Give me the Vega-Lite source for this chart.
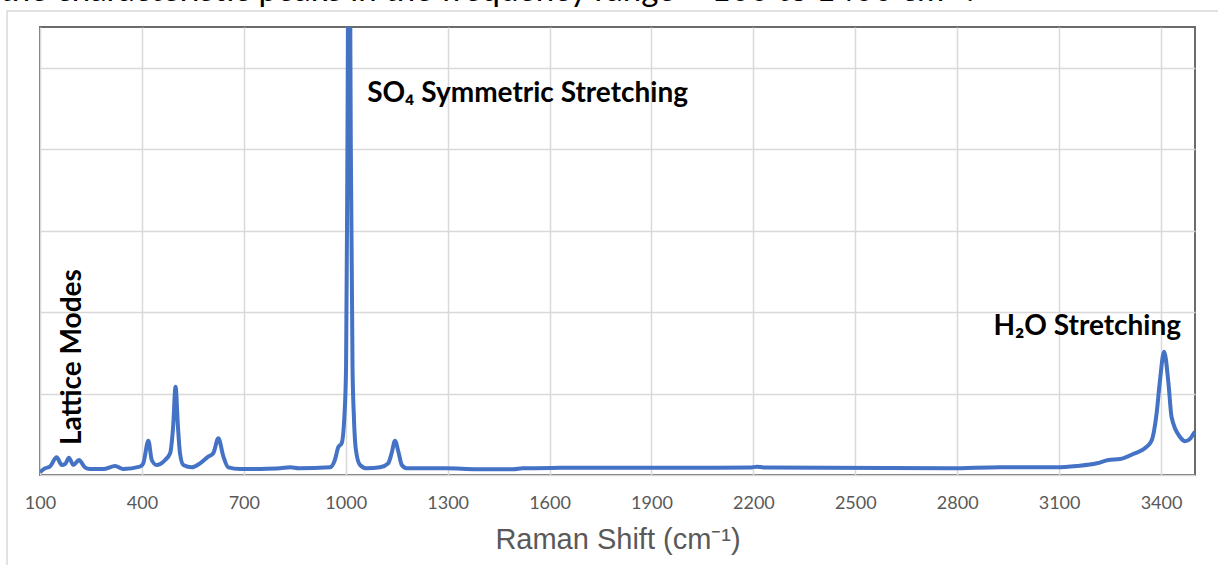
{
  "$schema": "https://vega.github.io/schema/vega-lite/v6.json",
  "width": 1155,
  "height": 448,
  "autosize": {"type": "none"},
  "padding": {"left": 40, "top": 27, "right": 23, "bottom": 90},
  "background": "white",
  "config": {
    "view": {"stroke": "#6b6b6b", "strokeWidth": 2},
    "axis": {"gridColor": "#d9d9d9", "gridWidth": 1.5}
  },
  "datasets": {
    "spectrum": [
      {"shift": 100, "intensity": 70}, {"shift": 115, "intensity": 164}, {"shift": 129, "intensity": 204},
      {"shift": 149, "intensity": 434}, {"shift": 164, "intensity": 245}, {"shift": 175, "intensity": 280},
      {"shift": 185, "intensity": 425}, {"shift": 198, "intensity": 245}, {"shift": 215, "intensity": 368},
      {"shift": 232, "intensity": 189}, {"shift": 247, "intensity": 147}, {"shift": 286, "intensity": 147},
      {"shift": 321, "intensity": 221}, {"shift": 345, "intensity": 147}, {"shift": 394, "intensity": 204},
      {"shift": 404, "intensity": 287}, {"shift": 419, "intensity": 842}, {"shift": 429, "intensity": 368},
      {"shift": 443, "intensity": 245}, {"shift": 468, "intensity": 368}, {"shift": 483, "intensity": 533},
      {"shift": 492, "intensity": 1200}, {"shift": 499, "intensity": 2168}, {"shift": 506, "intensity": 1200},
      {"shift": 512, "intensity": 540}, {"shift": 522, "intensity": 245}, {"shift": 547, "intensity": 189},
      {"shift": 571, "intensity": 287}, {"shift": 595, "intensity": 449}, {"shift": 610, "intensity": 533},
      {"shift": 625, "intensity": 901}, {"shift": 640, "intensity": 449}, {"shift": 654, "intensity": 189},
      {"shift": 689, "intensity": 147}, {"shift": 750, "intensity": 150}, {"shift": 807, "intensity": 164},
      {"shift": 836, "intensity": 189}, {"shift": 862, "intensity": 164}, {"shift": 954, "intensity": 189},
      {"shift": 968, "intensity": 368}, {"shift": 978, "intensity": 680}, {"shift": 988, "intensity": 778},
      {"shift": 996, "intensity": 1430}, {"shift": 1001, "intensity": 2660}, {"shift": 1005, "intensity": 8000},
      {"shift": 1010, "intensity": 16000}, {"shift": 1015, "intensity": 8000}, {"shift": 1020, "intensity": 2660},
      {"shift": 1024, "intensity": 1430}, {"shift": 1030, "intensity": 614}, {"shift": 1042, "intensity": 245},
      {"shift": 1062, "intensity": 164}, {"shift": 1101, "intensity": 189}, {"shift": 1125, "intensity": 287},
      {"shift": 1135, "intensity": 533}, {"shift": 1145, "intensity": 842}, {"shift": 1155, "intensity": 570},
      {"shift": 1165, "intensity": 245}, {"shift": 1179, "intensity": 164}, {"shift": 1297, "intensity": 164},
      {"shift": 1385, "intensity": 140}, {"shift": 1493, "intensity": 140}, {"shift": 1520, "intensity": 164},
      {"shift": 1631, "intensity": 175}, {"shift": 1719, "intensity": 180}, {"shift": 1984, "intensity": 180},
      {"shift": 2190, "intensity": 182}, {"shift": 2210, "intensity": 205}, {"shift": 2230, "intensity": 186},
      {"shift": 2779, "intensity": 164}, {"shift": 2926, "intensity": 189}, {"shift": 3093, "intensity": 189},
      {"shift": 3152, "intensity": 221}, {"shift": 3211, "intensity": 287}, {"shift": 3245, "intensity": 368},
      {"shift": 3279, "intensity": 393}, {"shift": 3318, "intensity": 516}, {"shift": 3358, "intensity": 696},
      {"shift": 3373, "intensity": 859}, {"shift": 3387, "intensity": 1514}, {"shift": 3397, "intensity": 2332},
      {"shift": 3409, "intensity": 3027}, {"shift": 3422, "intensity": 2242}, {"shift": 3431, "intensity": 1424},
      {"shift": 3456, "intensity": 933}, {"shift": 3471, "intensity": 827}, {"shift": 3486, "intensity": 893},
      {"shift": 3497, "intensity": 1031}, {"shift": 3500, "intensity": 1060}
    ]
  },
  "layer": [
    {
      "data": {"values": [{"x0": 3, "x1": 5000, "y0": 11393, "y1": -6000}]},
      "mark": {"type": "rect", "clip": false, "fillOpacity": 0, "stroke": "#d9d9d9", "strokeWidth": 1.5},
      "encoding": {
        "x": {"field": "x0", "type": "quantitative"},
        "x2": {"field": "x1"},
        "y": {"field": "y0", "type": "quantitative"},
        "y2": {"field": "y1"}
      }
    },
    {
      "data": {"name": "spectrum"},
      "mark": {"type": "line", "color": "#4472C4", "strokeWidth": 4, "interpolate": "monotone", "clip": true},
      "encoding": {
        "x": {
          "field": "shift", "type": "quantitative",
          "scale": {"domain": [100, 3500], "nice": false, "zero": false},
          "axis": {
            "values": [100, 400, 700, 1000, 1300, 1600, 1900, 2200, 2500, 2800, 3100, 3400],
            "format": "d", "ticks": false, "domain": false, "labelFlush": false,
            "labelFont": "Lato", "labelFontSize": 18, "labelColor": "#595959", "labelPadding": 19,
            "title": "Raman Shift (cm⁻¹)", "titleFont": "Liberation Sans", "titleFontSize": 29,
            "titleFontWeight": "normal", "titleColor": "#595959", "titlePadding": 13
          }
        },
        "y": {
          "field": "intensity", "type": "quantitative",
          "scale": {"domain": [0, 11000], "nice": false},
          "axis": {
            "values": [0, 2000, 4000, 6000, 8000, 10000],
            "labels": false, "ticks": false, "domain": false, "title": null
          }
        }
      }
    },
    {
      "data": {"values": [{"x": -18, "y": 11640, "label": "the characteristic peaks in the frequency range ~ 100 to 1400 cm⁻¹."}]},
      "mark": {"type": "text", "clip": false, "align": "left", "baseline": "alphabetic", "font": "Lato", "fontSize": 33, "color": "black"},
      "encoding": {
        "x": {"field": "x", "type": "quantitative"},
        "y": {"field": "y", "type": "quantitative"},
        "text": {"field": "label"}
      }
    },
    {
      "data": {"values": [{"x": 1063, "y": 9157, "label": "SO₄ Symmetric Stretching"}]},
      "mark": {"type": "text", "align": "left", "baseline": "alphabetic", "font": "Lato", "fontWeight": "bold", "fontSize": 28, "color": "black"},
      "encoding": {
        "x": {"field": "x", "type": "quantitative"},
        "y": {"field": "y", "type": "quantitative"},
        "text": {"field": "label"}
      }
    },
    {
      "data": {"values": [{"x": 3459, "y": 3437, "label": "H₂O Stretching"}]},
      "mark": {"type": "text", "align": "right", "baseline": "alphabetic", "font": "Lato", "fontWeight": "bold", "fontSize": 28, "color": "black"},
      "encoding": {
        "x": {"field": "x", "type": "quantitative"},
        "y": {"field": "y", "type": "quantitative"},
        "text": {"field": "label"}
      }
    },
    {
      "data": {"values": [{"x": 221, "y": 736, "label": "Lattice Modes"}]},
      "mark": {"type": "text", "align": "left", "baseline": "alphabetic", "angle": 270, "font": "Lato", "fontWeight": "bold", "fontSize": 28, "color": "black"},
      "encoding": {
        "x": {"field": "x", "type": "quantitative"},
        "y": {"field": "y", "type": "quantitative"},
        "text": {"field": "label"}
      }
    }
  ]
}
